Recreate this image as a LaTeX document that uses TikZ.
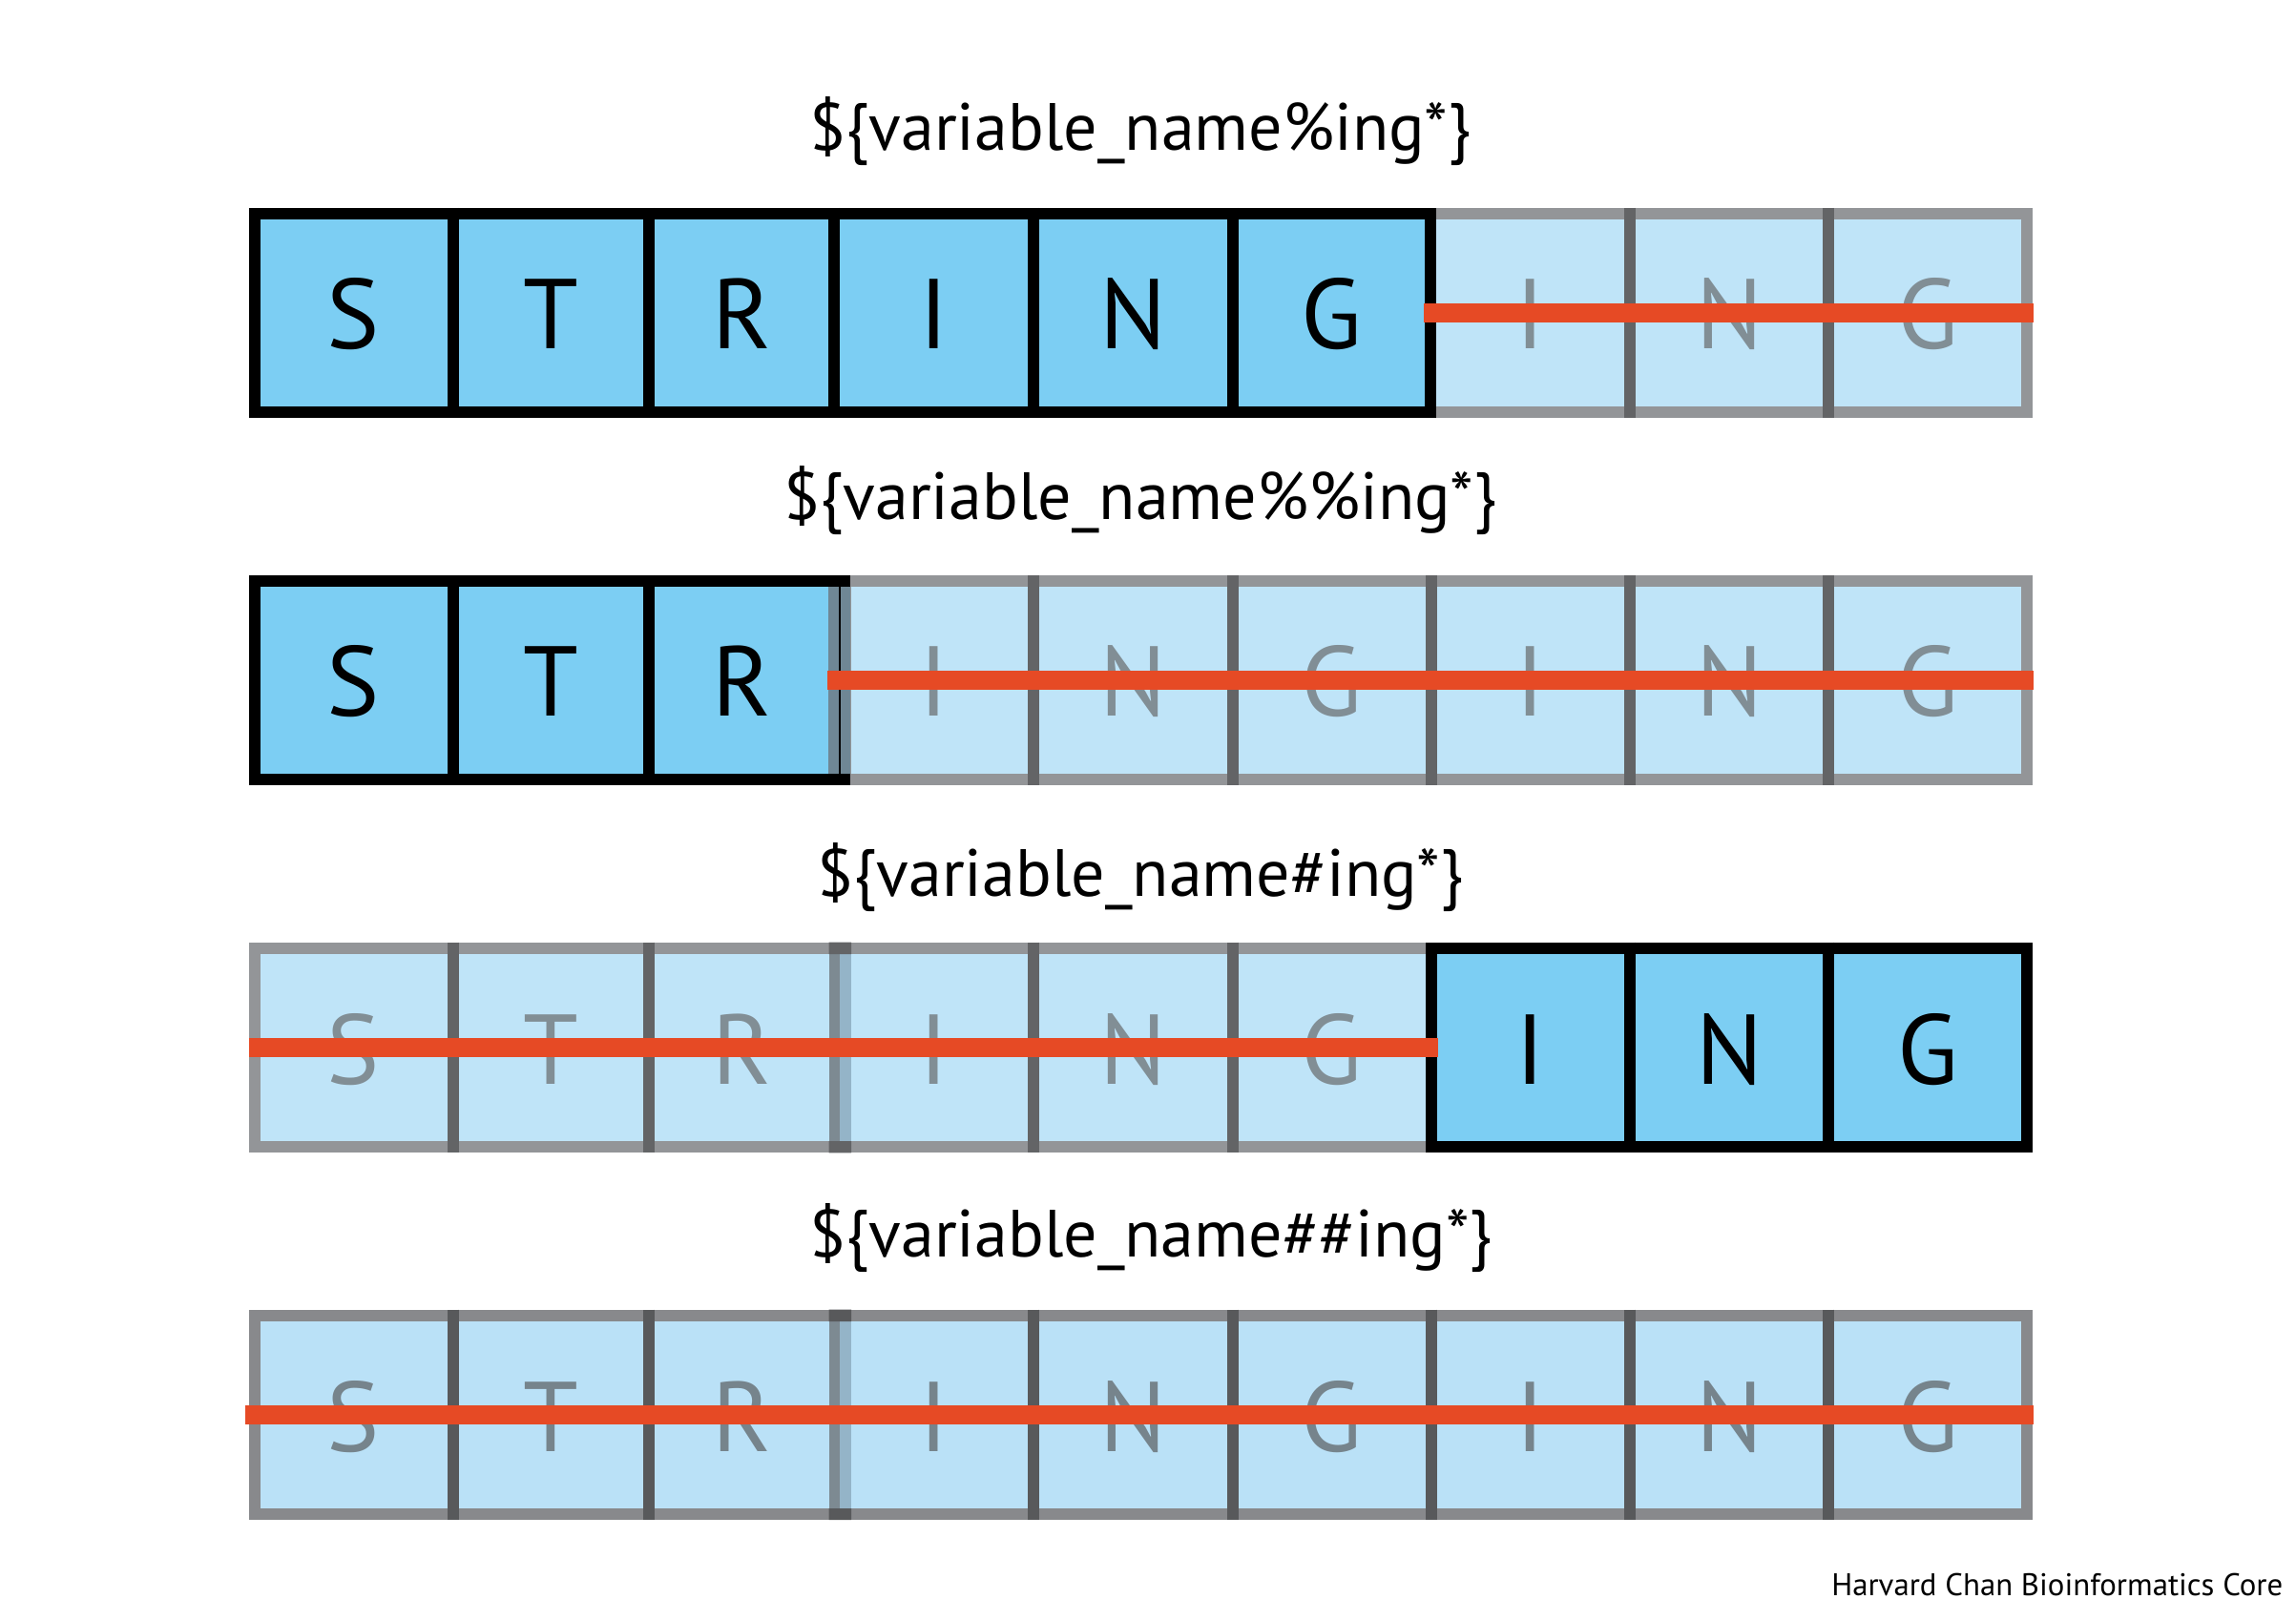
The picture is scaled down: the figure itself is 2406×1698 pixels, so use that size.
\documentclass[tikz,border=0pt]{standalone}
\usepackage{fontspec}
\setmainfont{PT Sans}
\definecolor{bright}{RGB}{124,206,243}
\definecolor{pale}{RGB}{191,228,248}
\definecolor{paleB}{RGB}{186,225,247}
\definecolor{edgegray}{RGB}{147,149,152}
\definecolor{edgegrayB}{RGB}{136,137,140}
\definecolor{divgray}{RGB}{99,100,102}
\definecolor{divgrayB}{RGB}{88,89,91}
\definecolor{fadetext}{RGB}{129,142,149}
\definecolor{fadetextB}{RGB}{118,132,140}
\definecolor{bandmix}{RGB}{111,135,149}
\definecolor{bandL}{RGB}{125,138,146}
\definecolor{bandR}{RGB}{148,180,200}
\definecolor{redline}{RGB}{230,74,37}
\begin{document}
\begin{tikzpicture}[x=0.25pt,y=-0.25pt,
  edge/.style={line width=3pt},
  lettr/.style={font=\fontsize{26}{26}\selectfont, anchor=base, inner sep=0pt, text=black},
  fadelettr/.style={lettr, text=fadetext},
  fadelettrB/.style={lettr, text=fadetextB},
  titletext/.style={font=\fontsize{17.5}{20}\selectfont, anchor=base, inner sep=0pt},
  credit/.style={font=\fontsize{8.2}{9}\selectfont, anchor=base east, inner sep=0pt},
  strike/.style={draw=redline, line width=5pt}]
\useasboundingbox (0,0) rectangle (2406,1698);
\fill[white] (0,0) rectangle (2406,1698);

% ---------- titles ----------
\node[titletext] (t1) at (1195,158) {\$\{variable\_name\%ing*\}};
\node[titletext] (t2) at (1195,545) {\$\{variable\_name\%\%ing*\}};
\node[titletext] (t3) at (1195,939) {\$\{variable\_name\#ing*\}};
\node[titletext] (t4) at (1206,1317) {\$\{variable\_name\#\#ing*\}};

% ---------- row 1 ----------
\fill[bright] (266.7,224) rectangle (1499,432);
\fill[pale] (1499,224) rectangle (2124,432);
\draw[edge, edgegray] (1499,224) -- (2124,224) -- (2124,432) -- (1499,432);
\draw[edge, divgray] (1708,218) -- (1708,438) (1916,218) -- (1916,438);
\draw[edge, black] (266.7,224) rectangle (1499,432);
\draw[edge, black] (474.5,218) -- (474.5,438) (679.5,218) -- (679.5,438)
  (874,218) -- (874,438) (1083,218) -- (1083,438) (1291.5,218) -- (1291.5,438);
\node[lettr] (a1) at (370.6,366) {S};
\node[lettr] (a2) at (577,366) {T};
\node[lettr] (a3) at (777,366) {R};
\node[lettr] (a4) at (979,366) {I};
\node[lettr] (a5) at (1187,366) {N};
\node[lettr] (a6) at (1395,366) {G};
\node[fadelettr] (a7) at (1604,366) {I};
\node[fadelettr] (a8) at (1812,366) {N};
\node[fadelettr] (a9) at (2020,366) {G};
\coordinate (r1s) at (1492,328);
\coordinate (r1e) at (2131,328);
\draw[strike] (r1s) -- (r1e);

% ---------- row 2 ----------
\fill[bright] (266.7,609) rectangle (874,817);
\fill[pale] (874,609) rectangle (2124,817);
\draw[edge, edgegray] (886,609) rectangle (2124,817);
\draw[edge, divgray] (1083,603) -- (1083,823) (1291.5,603) -- (1291.5,823)
  (1500,603) -- (1500,823) (1708,603) -- (1708,823) (1916,603) -- (1916,823);
\draw[edge, black] (266.7,609) rectangle (885,817);
\draw[edge, black] (474.5,603) -- (474.5,823) (679.5,603) -- (679.5,823);
\fill[bandmix] (868,615) rectangle (891,811);
\draw[black, line width=0.5pt] (879.5,615) -- (879.5,811);
\node[lettr] (b1) at (370.6,751) {S};
\node[lettr] (b2) at (577,751) {T};
\node[lettr] (b3) at (777,751) {R};
\node[fadelettr] (b4) at (979,751) {I};
\node[fadelettr] (b5) at (1187,751) {N};
\node[fadelettr] (b6) at (1395,751) {G};
\node[fadelettr] (b7) at (1604,751) {I};
\node[fadelettr] (b8) at (1812,751) {N};
\node[fadelettr] (b9) at (2020,751) {G};
\coordinate (r2s) at (867,713);
\coordinate (r2e) at (2131,713);
\draw[strike] (r2s) -- (r2e);

% ---------- row 3 ----------
\fill[pale] (266.7,993.7) rectangle (1500,1202.3);
\fill[bright] (1500,993.7) rectangle (2124,1202.3);
\draw[edge, edgegray] (266.7,993.7) rectangle (874.5,1202.3);
\draw[edge, edgegray] (886,993.7) rectangle (1500,1202.3);
\draw[edge, divgray] (474.5,987.7) -- (474.5,1208.3) (679.5,987.7) -- (679.5,1208.3)
  (1083,987.7) -- (1083,1208.3) (1291.5,987.7) -- (1291.5,1208.3);
\fill[bandL] (868.5,1000) rectangle (880,1196);
\fill[bandR] (880,1000) rectangle (892,1196);
\fill[divgray] (868.5,987.7) rectangle (892,1000) (868.5,1196) rectangle (892,1208.3);
\draw[edge, black] (1500,993.7) rectangle (2124,1202.3);
\draw[edge, black] (1708,987.7) -- (1708,1208.3) (1916,987.7) -- (1916,1208.3);
\node[fadelettr] (c1) at (370.6,1136) {S};
\node[fadelettr] (c2) at (577,1136) {T};
\node[fadelettr] (c3) at (777,1136) {R};
\node[fadelettr] (c4) at (979,1136) {I};
\node[fadelettr] (c5) at (1187,1136) {N};
\node[fadelettr] (c6) at (1395,1136) {G};
\node[lettr] (c7) at (1604,1136) {I};
\node[lettr] (c8) at (1812,1136) {N};
\node[lettr] (c9) at (2020,1136) {G};
\coordinate (r3s) at (260.7,1098);
\coordinate (r3e) at (1506.7,1098);
\draw[strike] (r3s) -- (r3e);

% ---------- row 4 ----------
\fill[paleB] (266.7,1378.7) rectangle (2124,1587);
\draw[edge, edgegrayB] (266.7,1378.7) rectangle (874.5,1587);
\draw[edge, edgegrayB] (886,1378.7) rectangle (2124,1587);
\draw[edge, divgrayB] (474.5,1372.7) -- (474.5,1593) (679.5,1372.7) -- (679.5,1593)
  (1083,1372.7) -- (1083,1593) (1291.5,1372.7) -- (1291.5,1593)
  (1500,1372.7) -- (1500,1593) (1708,1372.7) -- (1708,1593) (1916,1372.7) -- (1916,1593);
\fill[bandL] (868.5,1385) rectangle (880,1581);
\fill[bandR] (880,1385) rectangle (892,1581);
\fill[divgrayB] (868.5,1372.7) rectangle (892,1385) (868.5,1581) rectangle (892,1593);
\node[fadelettrB] (d1) at (370.6,1521) {S};
\node[fadelettrB] (d2) at (577,1521) {T};
\node[fadelettrB] (d3) at (777,1521) {R};
\node[fadelettrB] (d4) at (979,1521) {I};
\node[fadelettrB] (d5) at (1187,1521) {N};
\node[fadelettrB] (d6) at (1395,1521) {G};
\node[fadelettrB] (d7) at (1604,1521) {I};
\node[fadelettrB] (d8) at (1812,1521) {N};
\node[fadelettrB] (d9) at (2020,1521) {G};
\coordinate (r4s) at (257,1483);
\coordinate (r4e) at (2131,1483);
\draw[strike] (r4s) -- (r4e);

% ---------- credit ----------
\node[credit] (cr) at (2393,1672.7) {Harvard Chan Bioinformatics Core};
\end{tikzpicture}
\end{document}
